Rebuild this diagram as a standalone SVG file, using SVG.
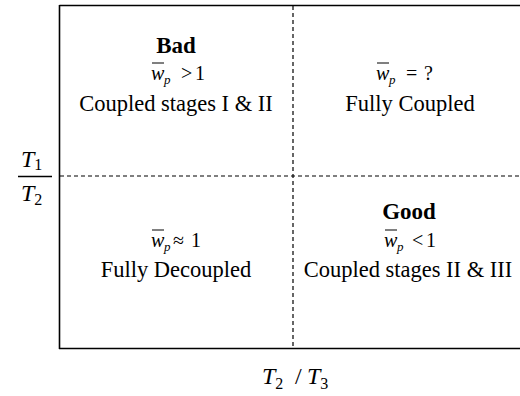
<svg xmlns="http://www.w3.org/2000/svg" width="520" height="396" viewBox="0 0 520 396">
<style>
.t{font-family:"Liberation Serif","Times New Roman",serif;font-size:22.5px;fill:#000;text-anchor:middle}
.b{font-weight:bold;font-size:23px}
.m{font-family:"Liberation Serif","Times New Roman",serif;font-size:20px;fill:#000}
.i{font-style:italic}
.s{font-size:13px;font-style:italic}
.ax{font-family:"Liberation Serif","Times New Roman",serif;font-size:24px;fill:#000;font-style:italic}
.sub{font-size:16px;font-style:normal}
.bar{stroke:#000;stroke-width:1}
.frame{stroke:#000;stroke-width:1.6;fill:none}
.dash{stroke:#000;stroke-width:1.2;stroke-dasharray:4,3;fill:none}
</style>
<rect width="520" height="396" fill="#fff"/>
<g id="connectors">
<path class="frame" d="M59.5,5.5 H520 M59.5,5 V349 M59,348.5 H520"/>
<path class="dash" d="M293,6 V348"/>
<path class="dash" d="M60,176 H520"/>
</g>
<g id="q-bad">
<text class="t b" x="176" y="53">Bad</text>
<text class="m" y="80"><tspan class="i" x="151">w</tspan><tspan class="s" x="164" y="84">p</tspan><tspan x="181" y="80">&gt;</tspan><tspan x="195">1</tspan></text>
<line class="bar" x1="152" y1="63" x2="164" y2="63"/>
<text class="t" x="176" y="111">Coupled stages I &amp; II</text>
</g>
<g id="q-coupled">
<text class="m" y="80"><tspan class="i" x="376">w</tspan><tspan class="s" x="389" y="84">p</tspan><tspan x="406" y="80">=</tspan><tspan x="424">?</tspan></text>
<line class="bar" x1="377" y1="63" x2="389" y2="63"/>
<text class="t" x="410" y="111">Fully Coupled</text>
</g>
<g id="q-decoupled">
<text class="m" y="247"><tspan class="i" x="151">w</tspan><tspan class="s" x="164" y="251">p</tspan><tspan x="173" y="247">≈</tspan><tspan x="191">1</tspan></text>
<line class="bar" x1="152" y1="230" x2="164" y2="230"/>
<text class="t" x="176" y="277">Fully Decoupled</text>
</g>
<g id="q-good">
<text class="t b" x="409" y="219">Good</text>
<text class="m" y="247"><tspan class="i" x="384">w</tspan><tspan class="s" x="397" y="251">p</tspan><tspan x="412" y="247">&lt;</tspan><tspan x="426">1</tspan></text>
<line class="bar" x1="385" y1="230" x2="397" y2="230"/>
<text class="t" x="408" y="277">Coupled stages II &amp; III</text>
</g>
<g id="axis-y">
<text class="ax" x="21" y="167">T<tspan class="sub" dy="3">1</tspan></text>
<line x1="18" y1="176.5" x2="52" y2="176.5" stroke="#000" stroke-width="1.3"/>
<text class="ax" x="21" y="201">T<tspan class="sub" dy="4">2</tspan></text>
</g>
<g id="axis-x">
<text class="ax" y="384"><tspan x="262">T</tspan><tspan class="sub" dy="5">2</tspan><tspan x="295" dy="-5" font-style="normal">/</tspan><tspan x="307">T</tspan><tspan class="sub" dy="5">3</tspan></text>
</g>
</svg>
